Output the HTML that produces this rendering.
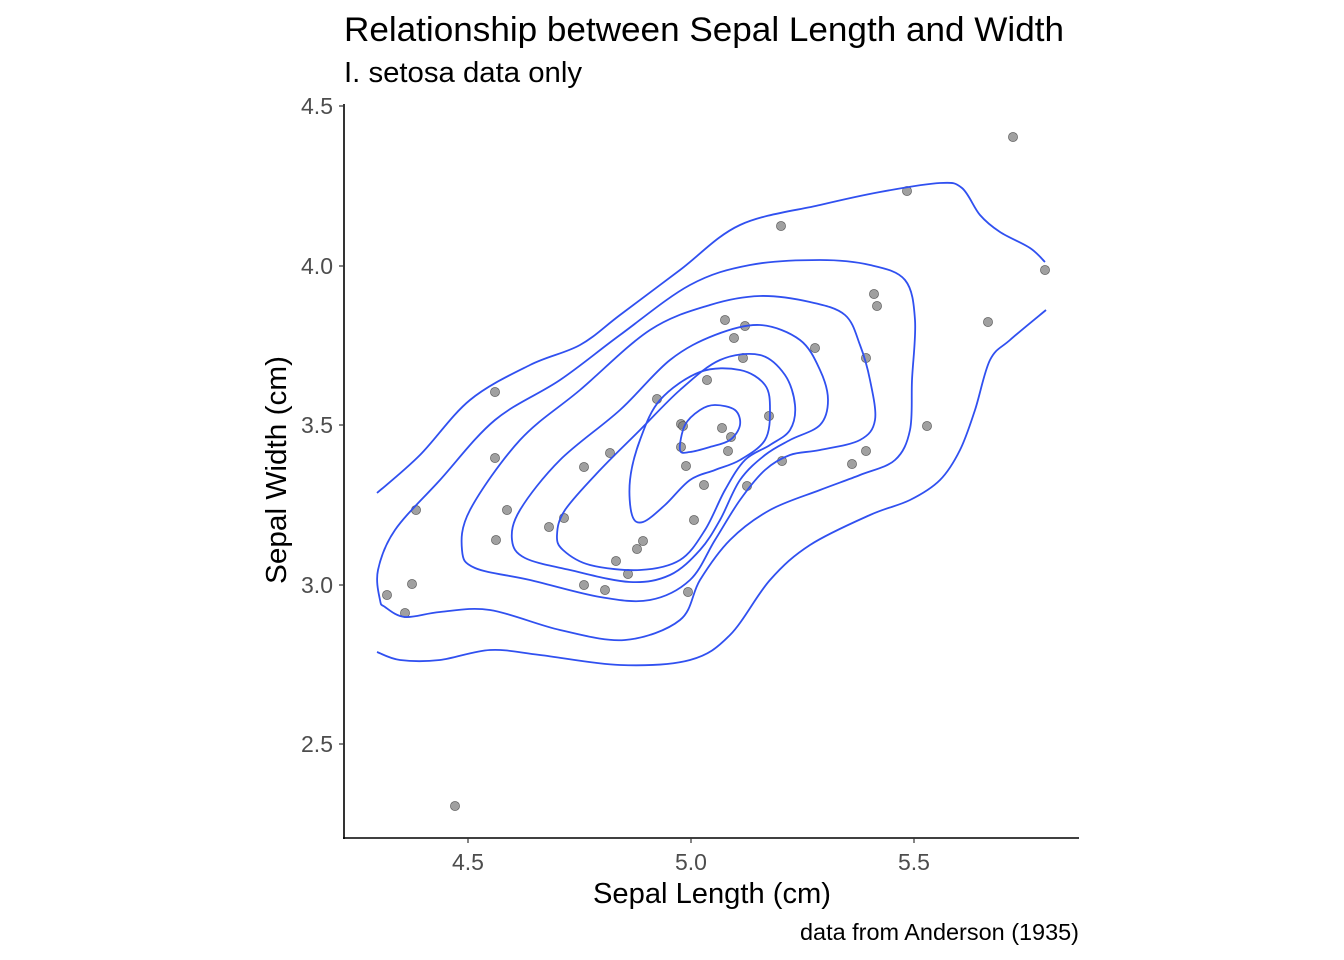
<!DOCTYPE html>
<html><head><meta charset="utf-8"><style>
body{margin:0;background:#fff;}
svg{display:block;font-family:"Liberation Sans",Arial,sans-serif;}
</style></head><body>
<svg id="s" width="1344" height="960" xmlns="http://www.w3.org/2000/svg">
<rect width="1344" height="960" fill="#fff"/>
<text x="344" y="41" font-size="34.5" fill="#000" textLength="720" lengthAdjust="spacingAndGlyphs">Relationship between Sepal Length and Width</text>
<text x="344" y="82" font-size="29" fill="#000" textLength="238" lengthAdjust="spacingAndGlyphs">I. setosa data only</text>
<g id="pts" fill="#808080" fill-opacity="0.75" stroke="#555" stroke-width="0.6"></g>
<g id="cont" fill="none" stroke="#3050f0" stroke-width="1.8"></g>
<line x1="344" y1="104" x2="344" y2="839" stroke="#000" stroke-width="1.6"/>
<line x1="343" y1="838" x2="1079" y2="838" stroke="#000" stroke-width="1.6"/>
<g stroke="#333" stroke-width="1.2">
<line x1="339" y1="106" x2="344" y2="106"/><line x1="339" y1="266" x2="344" y2="266"/>
<line x1="339" y1="425" x2="344" y2="425"/><line x1="339" y1="585" x2="344" y2="585"/>
<line x1="339" y1="744" x2="344" y2="744"/>
<line x1="468" y1="838" x2="468" y2="843"/><line x1="691" y1="838" x2="691" y2="843"/><line x1="914" y1="838" x2="914" y2="843"/>
</g>
<g font-size="23" fill="#4d4d4d" text-anchor="end">
<text x="333" y="114">4.5</text><text x="333" y="274">4.0</text><text x="333" y="433">3.5</text>
<text x="333" y="593">3.0</text><text x="333" y="752">2.5</text>
</g>
<g font-size="23" fill="#4d4d4d" text-anchor="middle">
<text x="468" y="870">4.5</text><text x="691" y="870">5.0</text><text x="914" y="870">5.5</text>
</g>
<text x="712" y="903" font-size="29" text-anchor="middle" textLength="238" lengthAdjust="spacingAndGlyphs">Sepal Length (cm)</text>
<text transform="translate(286,470) rotate(-90)" font-size="29" text-anchor="middle" textLength="228" lengthAdjust="spacingAndGlyphs">Sepal Width (cm)</text>
<text x="1079" y="940" font-size="23.5" text-anchor="end" textLength="279" lengthAdjust="spacingAndGlyphs">data from Anderson (1935)</text>
</svg>
<script>
var P=[[1013,137],[907,191],[781,226],[1045,270],[874,294],[877,306],[988,322],[725,320],[745,326],[734,338],[815,348],[743,358],[866,358],[495,392],[707,380],[657,399],[769,416],[681,424],[683,426],[722,428],[731,437],[927,426],[681,447],[728,451],[610,453],[495,458],[866,451],[852,464],[782,461],[686,466],[584,467],[704,485],[747,486],[416,510],[507,510],[694,520],[564,518],[549,527],[496,540],[643,541],[637,549],[616,561],[628,574],[412,584],[584,585],[605,590],[688,592],[387,595],[405,613],[455,806]];
var g=document.getElementById('pts'),ns="http://www.w3.org/2000/svg";
P.forEach(function(p){var c=document.createElementNS(ns,'circle');c.setAttribute('cx',p[0]);c.setAttribute('cy',p[1]);c.setAttribute('r',4.6);g.appendChild(c);});
function cr(pts,closed){var n=pts.length,d="M"+pts[0][0]+","+pts[0][1];
function at(i){if(closed)return pts[(i+n)%n];return pts[Math.max(0,Math.min(n-1,i))];}
var m=closed?n:n-1;
for(var i=0;i<m;i++){var p0=at(i-1),p1=at(i),p2=at(i+1),p3=at(i+2);
d+=" C"+(p1[0]+(p2[0]-p0[0])/6)+","+(p1[1]+(p2[1]-p0[1])/6)+" "+(p2[0]-(p3[0]-p1[0])/6)+","+(p2[1]-(p3[1]-p1[1])/6)+" "+p2[0]+","+p2[1];}
return d+(closed?"Z":"");}
var C=[
[[[377,493],[420,455],[470,400],[530,365],[580,345],[620,315],[680,270],[740,225],[820,205],[880,192],[940,183],[962,188],[980,215],[1000,232],[1030,248],[1045,262]],0],
[[[1046,310],[1010,340],[990,360],[975,410],[960,450],[940,480],[910,500],[870,515],[810,545],[770,580],[730,635],[690,660],[620,665],[540,655],[490,650],[440,660],[400,660],[377,652]],0],
[[[380,600],[378,570],[395,530],[440,480],[495,420],[560,380],[620,335],[690,285],[750,265],[820,260],[870,265],[905,280],[915,320],[912,380],[910,430],[895,460],[860,475],[820,490],[770,510],[730,540],[700,580],[680,620],[625,640],[560,630],[490,610],[440,612],[405,617],[385,607]],1],
[[[462,550],[470,510],[520,440],[580,390],[650,330],[710,305],[760,296],[810,302],[845,315],[860,345],[870,380],[875,420],[860,440],[820,450],[790,455],[765,470],[740,500],[715,540],[690,580],[650,600],[600,597],[530,580],[475,568]],1],
[[[512,540],[520,510],[560,460],[620,410],[670,360],[715,335],[760,325],[800,340],[820,370],[828,400],[820,425],[790,440],[765,455],[740,480],[720,520],[700,550],[670,575],[630,582],[570,570],[525,558]],1],
[[[557,535],[565,510],[600,470],[640,430],[680,390],[720,360],[760,355],[785,375],[795,405],[790,430],[770,445],[745,460],[725,490],[705,530],[680,560],[640,570],[590,565],[563,550]],1],
[[[632,515],[630,480],[640,440],[660,400],[700,372],[740,370],[765,385],[770,410],[765,440],[740,460],[715,470],[690,480],[665,505],[643,522]],1],
[[[680,450],[685,425],[700,410],[715,405],[735,410],[740,425],[730,440],[710,447],[690,452]],1]];
var cg=document.getElementById('cont');
C.forEach(function(c){var p=document.createElementNS(ns,'path');p.setAttribute('d',cr(c[0],c[1]));cg.appendChild(p);});
</script>
</body></html>
